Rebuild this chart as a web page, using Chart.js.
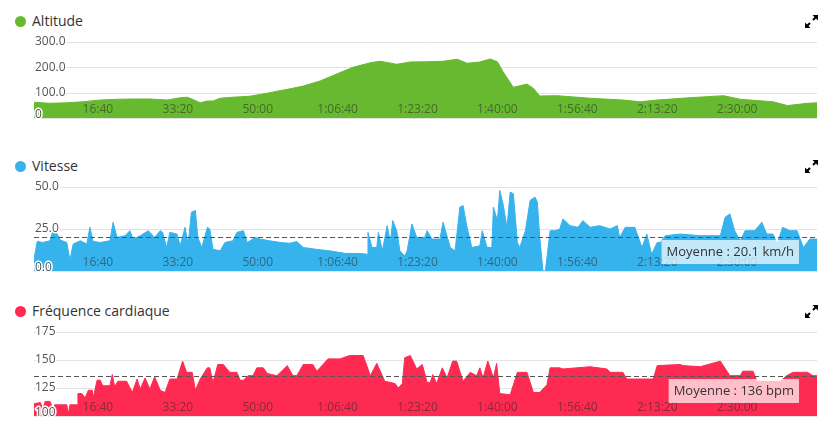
<!DOCTYPE html>
<html lang="fr">
<head>
<meta charset="UTF-8" />
<script src="https://cdn.jsdelivr.net/npm/chart.js@4.4.1/dist/chart.umd.min.js"></script>
<title>Altitude / Vitesse / Fréquence cardiaque</title>
<style>
  body { margin: 0; background: #fff; width: 827px; height: 427px; position: relative; overflow: hidden; font-family: 'Open Sans', 'DejaVu Sans', sans-serif; }
  .dot { position: absolute; left: 15px; width: 11px; height: 11px; border-radius: 50%; }
  .ttl { position: absolute; left: 32px; font-size: 14px; line-height: 18px; color: #333; }
  .icon { position: absolute; left: 805px; }
  .panel { position: absolute; left: 0; }
</style>
</head>
<body>
<div class="dot" style="top:16px;background:#67b92f"></div>
<div class="ttl" style="top:12px">Altitude</div>
<svg class="icon" style="top:15px" width="14" height="13" viewBox="0 0 14 13"><path d="M13 0 L7.5 0 L13 5.5 Z M0 13 L5.5 13 L0 7.5 Z" fill="#000"/><path d="M12 1 L8 5 M1 12 L5 8" stroke="#000" stroke-width="2"/></svg>
<div class="panel" style="top:32px"><canvas id="altChart" width="827" height="90"></canvas></div>

<div class="dot" style="top:161px;background:#36b3ec"></div>
<div class="ttl" style="top:157px">Vitesse</div>
<svg class="icon" style="top:160px" width="14" height="13" viewBox="0 0 14 13"><path d="M13 0 L7.5 0 L13 5.5 Z M0 13 L5.5 13 L0 7.5 Z" fill="#000"/><path d="M12 1 L8 5 M1 12 L5 8" stroke="#000" stroke-width="2"/></svg>
<div class="panel" style="top:177px"><canvas id="speedChart" width="827" height="98"></canvas></div>

<div class="dot" style="top:306px;background:#ff2a52"></div>
<div class="ttl" style="top:302px">Fréquence cardiaque</div>
<svg class="icon" style="top:305px" width="14" height="13" viewBox="0 0 14 13"><path d="M13 0 L7.5 0 L13 5.5 Z M0 13 L5.5 13 L0 7.5 Z" fill="#000"/><path d="M12 1 L8 5 M1 12 L5 8" stroke="#000" stroke-width="2"/></svg>
<div class="panel" style="top:322px"><canvas id="hrChart" width="827" height="98"></canvas></div>

<script>
// elapsed time, seconds
const xTickSeconds = [1000, 2000, 3000, 4000, 5000, 6000, 7000, 8000, 9000];
const xTickLabels = ['16:40', '33:20', '50:00', '1:06:40', '1:23:20', '1:40:00', '1:56:40', '2:13:20', '2:30:00'];

// altitude (m)
const altTime = [200,400,610,810,1030,1240,1440,1650,1870,2030,
  2120,2190,2280,2370,2440,2530,2690,2900,3120,3280,
  3370,3570,3780,3990,4190,4410,4530,4740,4910,5120,
  5320,5500,5620,5780,5910,6000,6070,6200,6370,6450,
  6530,6750,7160,7570,7790,8000,8410,8830,9040,9450,
  9630,9880,10000];
const altValues = [62,58,60,64,71,74,75,75,71,80,
  82,73,60,67,67,78,82,86,98,108,
  113,126,146,174,200,218,224,212,221,222,
  224,232,216,221,233,222,183,121,134,117,
  87,88,78,71,64,71,80,88,74,64,
  49,58,60];
const altTicks = [0, 100, 200, 300];
const altTickLabels = ['0', '100.0', '200.0', '300.0'];

// vitesse (km/h)
const speedTime = [200,240,310,400,440,490,530,610,650,690,
  780,860,900,940,1030,1150,1190,1240,1340,1400,
  1440,1530,1630,1710,1780,1810,1860,1900,1990,2030,
  2090,2130,2170,2220,2250,2300,2370,2400,2440,2530,
  2590,2690,2740,2820,2870,2970,3030,3150,3280,3400,
  3490,3570,3720,3900,4090,4280,4370,4380,4430,4490,
  4510,4560,4620,4660,4690,4740,4780,4840,4870,4930,
  4990,5090,5120,5180,5280,5320,5410,5470,5530,5570,
  5620,5680,5780,5810,5870,5930,5950,6000,6030,6070,
  6120,6160,6200,6250,6280,6350,6410,6470,6500,6530,
  6570,6600,6630,6660,6720,6780,6820,6910,7010,7070,
  7160,7280,7410,7500,7530,7600,7720,7810,7870,7930,
  8000,8040,8100,8290,8540,8790,8850,8910,8970,9040,
  9100,9220,9310,9370,9450,9500,9570,9660,9750,9830,
  9910,10000];
const speedKmh = [7,17.6,17,18,24.4,22,18.4,17,6.5,16,
  18,16,26,17.6,17,18,29,20,21,24,
  19,21,24,20,24,23,14,23,22,15,
  26,16,35,36,20,14,26,25,13,12,
  17,18,23,24,17,20,19,18,17,16.5,
  17.5,14,13,12,10.5,10.4,10,23,14,14,
  23,12,27,17,30,24,12,9,12,28,
  20,20,24,19,19,29,14,12,38,39,
  26,14,15,24,14,14,38,30,48,40,
  26,47,46,17,14,24,42,44,41,20,
  0,0,12,24,24,25,31,27,26,30,
  26,27,25,27,20,26,26,14,22,10,
  17,17,21,22,21,21,32,34,24,18,
  24,24,29,22,22,16,26,24,24,14,
  19,19];
const speedAvg = 20.1;
const speedTicks = [0, 25, 50];
const speedTickLabels = ['0.0', '25.0', '50.0'];

// fréquence cardiaque (bpm)
const hrTime = [200,280,310,340,400,440,460,560,610,630,
  650,740,750,800,840,880,930,940,990,1030,
  1060,1150,1180,1210,1250,1360,1430,1490,1530,1590,
  1650,1710,1780,1840,1900,1990,2060,2110,2180,2220,
  2280,2370,2400,2440,2500,2570,2650,2740,2780,2820,
  2880,2940,2990,3070,3120,3240,3370,3440,3490,3570,
  3690,3740,3880,4030,4070,4150,4220,4320,4410,4490,
  4560,4590,4720,4760,4810,4840,4910,4990,5060,5120,
  5160,5190,5240,5310,5370,5440,5490,5570,5660,5740,
  5780,5820,5880,5950,5990,6030,6160,6250,6370,6450,
  6530,6620,6660,6780,6820,7160,7370,7410,7570,7620,
  7950,8000,8290,8320,8540,8790,8910,9040,9070,9200,
  9250,9540,9620,9700,9880,9950,10000];
const hrBpm = [111,112,106,113,113,106,110,110,110,102,
  110,110,120,120,116,123,123,116,132,132,
  127,127,137,126,131,131,121,133,124,134,
  124,135,123,121,133,133,149,139,139,123,
  133,143,143,130,146,146,139,139,132,132,
  136,136,143,143,138,136,145,136,136,146,
  146,140,151,151,152,154,154,154,136,147,
  136,131,129,125,129,152,154,142,146,130,
  130,137,129,143,134,149,149,131,139,136,
  143,134,149,134,147,120,119,139,139,121,
  121,128,143,143,142,144,142,139,139,133,
  133,145,146,145,144,149,136,136,140,140,
  131,131,136,139,139,136,136];
const hrAvg = 136;
const hrTicks = [100, 125, 150, 175];
const hrTickLabels = ['100', '125', '150', '175'];

const FONT = "12px 'Open Sans', 'DejaVu Sans', sans-serif";
const BOX_FONT = "13px 'Open Sans', 'DejaVu Sans', sans-serif";

function makeChart(id, times, values, color, yMin, yMax, ticks, tickLabels, avg, avgText) {
  // gridlines, labels and average marker drawn with the chart's own scales
  const decor = {
    id: 'decor',
    beforeDatasetsDraw(chart) {
      const { ctx, chartArea, scales } = chart;
      ctx.save();
      ctx.strokeStyle = '#e3e3e3';
      ctx.lineWidth = 1;
      ticks.forEach(v => {
        const y = Math.round(scales.y.getPixelForValue(v)) + 0.5;
        ctx.beginPath();
        ctx.moveTo(chartArea.left, y);
        ctx.lineTo(chartArea.right, y);
        ctx.stroke();
      });
      ctx.restore();
    },
    afterDatasetsDraw(chart) {
      const { ctx, chartArea, scales } = chart;
      ctx.save();
      ctx.font = FONT;
      let avgY = null;
      if (avg !== null) {
        avgY = Math.round(scales.y.getPixelForValue(avg)) + 0.5;
        ctx.strokeStyle = '#555';
        ctx.lineWidth = 1;
        ctx.setLineDash([5, 3]);
        ctx.beginPath();
        ctx.moveTo(chartArea.left, avgY);
        ctx.lineTo(chartArea.right, avgY);
        ctx.stroke();
        ctx.setLineDash([]);
      }
      // x tick labels inside the plot
      ctx.fillStyle = 'rgba(40,40,40,0.55)';
      ctx.textAlign = 'center';
      ctx.textBaseline = 'middle';
      xTickSeconds.forEach((t, i) => {
        ctx.fillText(xTickLabels[i], scales.x.getPixelForValue(t), chartArea.bottom - 8);
      });
      // y tick labels with white halo
      ctx.textAlign = 'left';
      ctx.lineJoin = 'round';
      ticks.forEach((v, i) => {
        const y = Math.min(scales.y.getPixelForValue(v), chartArea.bottom - 3);
        ctx.strokeStyle = '#fff';
        ctx.lineWidth = 3;
        ctx.strokeText(tickLabels[i], chartArea.left + 1, y);
        ctx.fillStyle = '#555';
        ctx.fillText(tickLabels[i], chartArea.left + 1, y);
      });
      if (avg !== null) {
        ctx.font = BOX_FONT;
        const w = ctx.measureText(avgText).width + 10;
        const right = chartArea.right - 18;
        const top = avgY + 2.5;
        ctx.fillStyle = 'rgba(255,255,255,0.7)';
        ctx.fillRect(right - w, top, w, 24);
        ctx.fillStyle = '#333';
        ctx.fillText(avgText, right - w + 5, top + 12);
      }
      ctx.restore();
    }
  };

  return new Chart(document.getElementById(id).getContext('2d'), {
    type: 'line',
    data: {
      datasets: [{
        data: times.map((t, i) => ({ x: t, y: values[i] })),
        fill: 'start',
        backgroundColor: color,
        borderColor: color,
        borderWidth: 1,
        pointRadius: 0,
        tension: 0
      }]
    },
    options: {
      responsive: false,
      animation: false,
      events: [],
      layout: { padding: { left: 34, right: 10, top: 10, bottom: 4 } },
      plugins: { legend: { display: false }, tooltip: { enabled: false } },
      scales: {
        x: { type: 'linear', min: 200, max: 10000, display: false },
        y: { min: yMin, max: yMax, display: false }
      }
    },
    plugins: [decor]
  });
}

makeChart('altChart', altTime, altValues, '#67b92f', 0, 300, altTicks, altTickLabels, null, '');
makeChart('speedChart', speedTime, speedKmh, '#36b3ec', 0, 50, speedTicks, speedTickLabels, speedAvg, 'Moyenne : ' + speedAvg + ' km/h');
makeChart('hrChart', hrTime, hrBpm, '#ff2a52', 100, 175, hrTicks, hrTickLabels, hrAvg, 'Moyenne : ' + hrAvg + ' bpm');
</script>
</body>
</html>
